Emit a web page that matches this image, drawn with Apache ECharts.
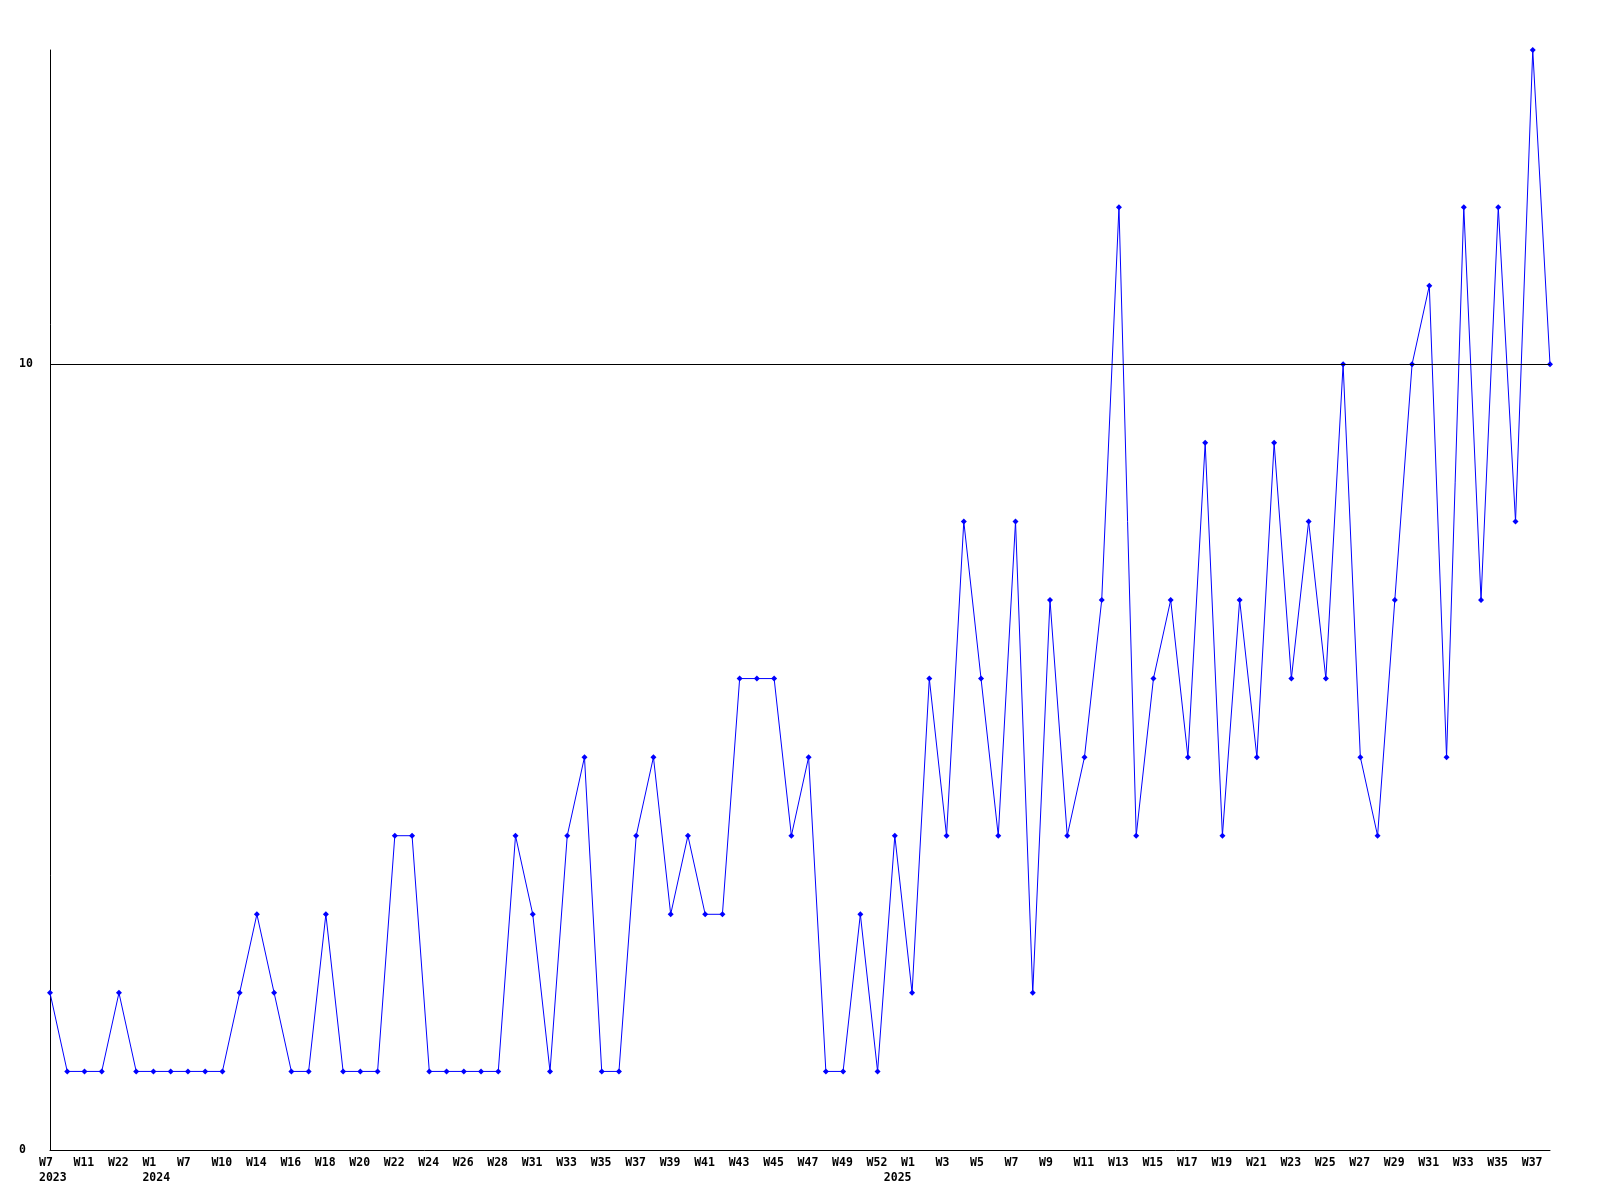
<!DOCTYPE html>
<html>
<head>
<meta charset="utf-8">
<script src="https://cdn.jsdelivr.net/npm/echarts@6/dist/echarts.min.js"></script>
<style>
html,body{margin:0;padding:0;background:#fff;}
#c{width:1600px;height:1200px;}
</style>
</head>
<body>
<div id="c"></div>
<script>
const weeks = ['W7','W9','W11','W15','W22','W40','W1','W4','W7','W8','W10','W12','W14','W15','W16','W17','W18','W19','W20','W21','W22','W23','W24','W25','W26','W27','W28','W30','W31','W32','W33','W34','W35','W36','W37','W38','W39','W40','W41','W42','W43','W44','W45','W46','W47','W48','W49','W51','W52','W0','W1','W2','W3','W4','W5','W6','W7','W8','W9','W10','W11','W12','W13','W14','W15','W16','W17','W18','W19','W20','W21','W22','W23','W24','W25','W26','W27','W28','W29','W30','W31','W32','W33','W34','W35','W36','W37','W38'];
const years = [2023,2023,2023,2023,2023,2023,
  2024,2024,2024,2024,2024,2024,2024,2024,2024,2024,2024,2024,2024,2024,2024,2024,2024,2024,2024,2024,2024,2024,2024,2024,2024,2024,2024,2024,2024,2024,2024,2024,2024,2024,2024,2024,2024,2024,2024,2024,2024,2024,2024,
  2025,2025,2025,2025,2025,2025,2025,2025,2025,2025,2025,2025,2025,2025,2025,2025,2025,2025,2025,2025,2025,2025,2025,2025,2025,2025,2025,2025,2025,2025,2025,2025,2025,2025,2025,2025,2025,2025,2025];
const values = [2,1,1,1,2,1,1,1,1,1,
  1,2,3,2,1,1,3,1,1,1,
  4,4,1,1,1,1,1,4,3,1,
  4,5,1,1,4,5,3,4,3,3,
  6,6,6,4,5,1,1,3,1,4,
  2,6,4,8,6,4,8,2,7,4,
  5,7,12,4,6,7,5,9,4,7,
  5,9,6,8,6,10,5,4,7,10,
  11,5,12,7,12,8,14,10];
const yTickLabels = [0, 10];
const refLine = 10;

const categories = weeks.map((w, i) => years[i] + '-' + w);
const font = 'DejaVu Sans Mono';

const chart = echarts.init(document.getElementById('c'), null, {renderer: 'canvas'});
chart.setOption({
  animation: false,
  backgroundColor: '#ffffff',
  grid: {left: 50, right: 50, top: 50, bottom: 50, containLabel: false},
  xAxis: {
    type: 'category',
    data: categories,
    boundaryGap: false,
    axisLine: {show: true, onZero: false, lineStyle: {color: '#000', width: 1}},
    axisTick: {show: false},
    splitLine: {show: false},
    axisLabel: {
      interval: 0,
      margin: 6,
      align: 'left',
      padding: [0, 0, 0, -11],
      color: '#000',
      fontFamily: font,
      fontWeight: 'bold',
      fontSize: 11.5,
      lineHeight: 15,
      formatter: function (v, i) {
        let s = (i % 2 === 0) ? weeks[i] : '';
        if (i === 0 || years[i] !== years[i - 1]) s += '\n' + years[i];
        return s;
      }
    }
  },
  yAxis: {
    type: 'value',
    min: 0,
    max: 14,
    interval: 10,
    axisLine: {show: true, lineStyle: {color: '#000', width: 1}},
    axisTick: {show: false},
    splitLine: {show: false},
    axisLabel: {
      margin: 31,
      align: 'left',
      padding: [4, 0, 0, 0],
      color: '#000',
      fontFamily: font,
      fontWeight: 'bold',
      fontSize: 11.5,
      showMaxLabel: false,
      formatter: function (v) { return yTickLabels.indexOf(v) >= 0 ? String(v) : ''; }
    }
  },
  series: [{
    type: 'line',
    data: values,
    symbol: 'diamond',
    symbolSize: 6,
    showSymbol: true,
    lineStyle: {color: '#0000ff', width: 1},
    itemStyle: {color: '#0000ff'},
    markLine: {
      silent: true,
      symbol: 'none',
      label: {show: false},
      lineStyle: {color: '#000', width: 1, type: 'solid'},
      data: [{yAxis: refLine}]
    }
  }]
});
</script>
</body>
</html>
